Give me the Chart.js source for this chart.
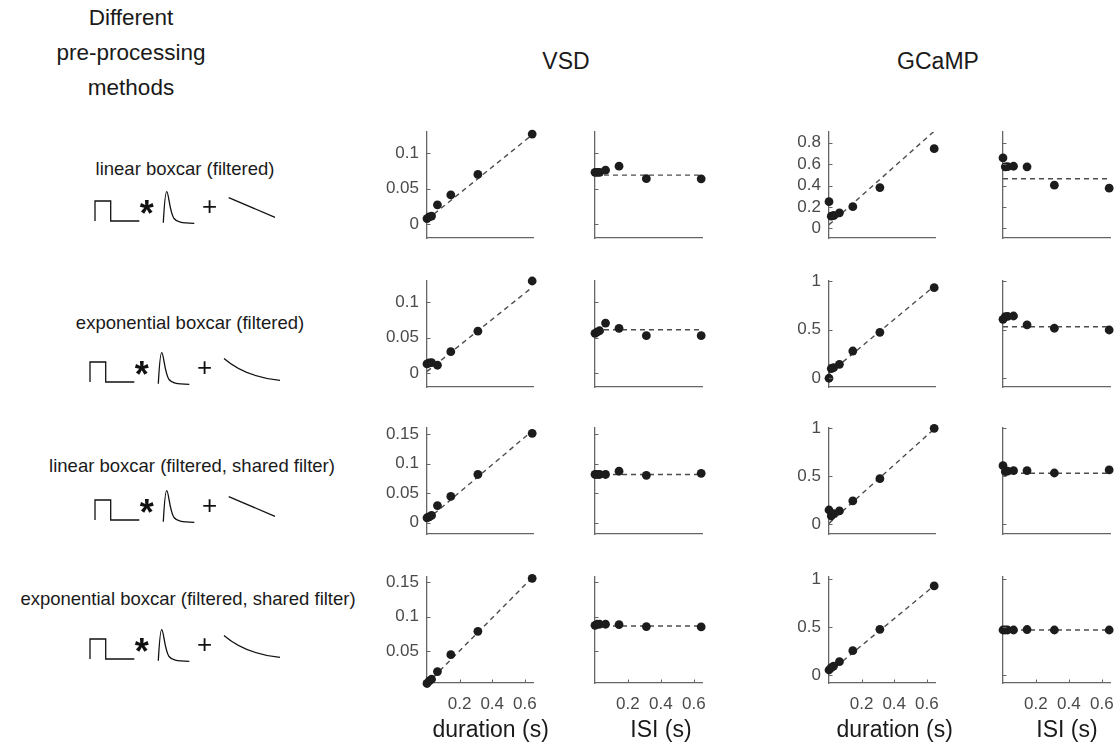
<!DOCTYPE html>
<html>
<head>
<meta charset="utf-8">
<script src="https://cdn.jsdelivr.net/npm/chart.js@4"></script>
<style>
  html, body { margin: 0; padding: 0; background: #fff; }
  #fig { position: relative; width: 1117px; height: 746px; overflow: hidden; font-family: "Liberation Sans", Arial, Helvetica, sans-serif; }
  .t { position: absolute; white-space: nowrap; line-height: 1; transform: translate(-50%, -50%); color: #1a1a1a; }
  canvas { position: absolute; }
  svg { position: absolute; left: 0; top: 0; }
</style>
</head>
<body>
<div id="fig"></div>
<script>
// ---------------- DATA ----------------
const durations = [0, 0.014, 0.028, 0.064, 0.146, 0.312, 0.645]; // x values (s), used for duration and ISI
const fitX = [0, 0.645];
const xTickValues = [0.2, 0.4, 0.6];
const xRange = [0, 0.65];

// VSD, duration panels
const vsdDur1 = [0.0075, 0.010, 0.011, 0.027, 0.041, 0.070, 0.127];
const vsdDur2 = [0.0126, 0.014, 0.0145, 0.0108, 0.030, 0.059, 0.130];
const vsdDur3 = [0.0084, 0.010, 0.0123, 0.029, 0.0444, 0.0815, 0.151];
const vsdDur4 = [0.0023, 0.006, 0.0085, 0.0197, 0.0444, 0.0785, 0.156];
// VSD, ISI panels
const vsdIsi1 = [0.073, 0.073, 0.073, 0.076, 0.0816, 0.064, 0.0637];
const vsdIsi2 = [0.0559, 0.058, 0.0596, 0.0704, 0.063, 0.0527, 0.0527];
const vsdIsi3 = [0.0815, 0.0815, 0.0815, 0.0815, 0.087, 0.080, 0.0834];
const vsdIsi4 = [0.0874, 0.0889, 0.0889, 0.0889, 0.0884, 0.0855, 0.085];
// GCaMP, duration panels
const gcDur1 = [0.249, 0.114, 0.120, 0.145, 0.203, 0.381, 0.744];
const gcDur2 = [0.0, 0.100, 0.109, 0.143, 0.280, 0.472, 0.931];
const gcDur3 = [0.149, 0.087, 0.110, 0.139, 0.243, 0.474, 0.997];
const gcDur4 = [0.055, 0.079, 0.096, 0.141, 0.255, 0.477, 0.927];
// GCaMP, ISI panels
const gcIsi1 = [0.658, 0.575, 0.577, 0.580, 0.575, 0.403, 0.375];
const gcIsi2 = [0.606, 0.633, 0.636, 0.640, 0.548, 0.514, 0.496];
const gcIsi3 = [0.609, 0.547, 0.552, 0.557, 0.557, 0.533, 0.565];
const gcIsi4 = [0.470, 0.470, 0.470, 0.470, 0.475, 0.470, 0.470];

// fitted lines (value at x=0 and x=0.645)
const vsdDurFit1 = [0.006, 0.126];
const vsdDurFit2 = [0.002, 0.121];
const vsdDurFit3 = [0.005, 0.155];
const vsdDurFit4 = [0.002, 0.157];
const vsdIsiFit1 = [0.069, 0.069];
const vsdIsiFit2 = [0.061, 0.061];
const vsdIsiFit3 = [0.0815, 0.0815];
const vsdIsiFit4 = [0.0864, 0.0864];
const gcDurFit1 = [0.034, 0.908];
const gcDurFit2 = [0.050, 0.946];
const gcDurFit3 = [0.010, 0.990];
const gcDurFit4 = [0.030, 0.930];
const gcIsiFit1 = [0.463, 0.463];
const gcIsiFit2 = [0.530, 0.530];
const gcIsiFit3 = [0.530, 0.530];
const gcIsiFit4 = [0.470, 0.470];

// y axis limits and ticks
const vsdRange1 = [-0.02, 0.13], vsdTicks1 = [0, 0.05, 0.1];
const vsdRange2 = [-0.02, 0.13], vsdTicks2 = [0, 0.05, 0.1];
const vsdRange3 = [-0.019, 0.16], vsdTicks3 = [0, 0.05, 0.1, 0.15];
const vsdRange4 = [0.003, 0.158], vsdTicks4 = [0.05, 0.1, 0.15];
const gcRange1 = [-0.09, 0.9], gcTicks1 = [0, 0.2, 0.4, 0.6, 0.8];
const gcRange2 = [-0.09, 1.0], gcTicks2 = [0, 0.5, 1];
const gcRange3 = [-0.1, 1.0], gcTicks3 = [0, 0.5, 1];
const gcRange4 = [-0.08, 1.02], gcTicks4 = [0, 0.5, 1];

// text
const rowLabels = ["linear boxcar (filtered)", "exponential boxcar (filtered)", "linear boxcar (filtered, shared filter)", "exponential boxcar (filtered, shared filter)"];
const headerLines = ["Different", "pre-processing", "methods"];
const columnTitles = ["VSD", "GCaMP"];
const xTitles = ["duration (s)", "ISI (s)"];

// ---------------- LAYOUT ----------------
const FONT = '"Liberation Sans", Arial, Helvetica, sans-serif';
const colLeft = [427, 595, 829, 1003];
const colWidth = [106, 107, 106, 107];
const rowTop = [132, 281, 428, 577];
const rowH = 106;

const fig = document.getElementById('fig');
function addText(str, x, y, size, extra) {
  const d = document.createElement('div');
  d.className = 't';
  d.textContent = str;
  d.style.left = x + 'px';
  d.style.top = y + 'px';
  d.style.fontSize = size + 'px';
  if (extra) Object.assign(d.style, extra);
  fig.appendChild(d);
}

const inwardTicks = {
  id: 'inwardTicks',
  afterDatasetsDraw(chart, args, opts) {
    const ctx = chart.ctx, ca = chart.chartArea;
    ctx.save();
    ctx.strokeStyle = '#666';
    ctx.lineWidth = 1;
    const ys = chart.scales.y;
    ys.ticks.forEach(t => {
      const p = Math.round(ys.getPixelForValue(t.value)) + 0.5;
      ctx.beginPath(); ctx.moveTo(ca.left, p); ctx.lineTo(ca.left + 3.5, p); ctx.stroke();
    });
    if (opts.xMarks) {
      const xs = chart.scales.x;
      xs.ticks.forEach(t => {
        const p = Math.round(xs.getPixelForValue(t.value)) + 0.5;
        ctx.beginPath(); ctx.moveTo(p, ca.bottom); ctx.lineTo(p, ca.bottom - 3.5); ctx.stroke();
      });
    }
    ctx.restore();
  }
};

function panel(col, row, ys, fit, range, ticks, showY) {
  const showX = row === 3;
  const L = showY ? 70 : 8, T = 30, R = 30, B = showX ? 45 : 30;
  const w = colWidth[col], h = rowH;
  const c = document.createElement('canvas');
  c.width = w + L + R; c.height = h + T + B;
  c.style.left = (colLeft[col] - L) + 'px';
  c.style.top = (rowTop[row] - T) + 'px';
  c.style.width = c.width + 'px'; c.style.height = c.height + 'px';
  fig.appendChild(c);
  new Chart(c.getContext('2d'), {
    type: 'scatter',
    data: {
      datasets: [
        {
          data: fitX.map((x, i) => ({ x: x, y: fit[i] })),
          showLine: true, pointRadius: 0, borderColor: '#4d4d4d', borderWidth: 1.4,
          borderDash: [5, 4], fill: false, clip: 0, order: 2
        },
        {
          data: durations.map((x, i) => ({ x: x, y: ys[i] })),
          pointRadius: 4.4, pointBackgroundColor: '#1c1c1c', pointBorderColor: '#1c1c1c',
          pointBorderWidth: 0, showLine: false, clip: false, order: 1
        }
      ]
    },
    options: {
      responsive: false, animation: false, devicePixelRatio: 1, events: [],
      layout: { padding: { top: T, right: R, left: 0, bottom: 0 } },
      plugins: { legend: { display: false }, tooltip: { enabled: false }, inwardTicks: { xMarks: showX } },
      scales: {
        x: {
          type: 'linear', min: xRange[0], max: xRange[1],
          afterFit(s) { s.height = B; },
          afterBuildTicks(s) { s.ticks = xTickValues.map(v => ({ value: v })); },
          grid: { display: false, drawTicks: false },
          border: { display: true, color: '#666', width: 1.3 },
          ticks: { display: showX, padding: 11, color: '#4a4a4a', font: { family: FONT, size: 17 },
                   maxRotation: 0, autoSkip: false, callback: v => String(v) }
        },
        y: {
          type: 'linear', min: range[0], max: range[1],
          afterFit(s) { s.width = L; },
          afterBuildTicks(s) { s.ticks = ticks.map(v => ({ value: v })); },
          grid: { display: false, drawTicks: false },
          border: { display: true, color: '#666', width: 1.3 },
          ticks: { display: showY, padding: 8, color: '#4a4a4a', font: { family: FONT, size: 17 },
                   autoSkip: false, callback: v => String(v) }
        }
      }
    },
    plugins: [inwardTicks]
  });
}

panel(0, 0, vsdDur1, vsdDurFit1, vsdRange1, vsdTicks1, true);
panel(0, 1, vsdDur2, vsdDurFit2, vsdRange2, vsdTicks2, true);
panel(0, 2, vsdDur3, vsdDurFit3, vsdRange3, vsdTicks3, true);
panel(0, 3, vsdDur4, vsdDurFit4, vsdRange4, vsdTicks4, true);
panel(1, 0, vsdIsi1, vsdIsiFit1, vsdRange1, vsdTicks1, false);
panel(1, 1, vsdIsi2, vsdIsiFit2, vsdRange2, vsdTicks2, false);
panel(1, 2, vsdIsi3, vsdIsiFit3, vsdRange3, vsdTicks3, false);
panel(1, 3, vsdIsi4, vsdIsiFit4, vsdRange4, vsdTicks4, false);
panel(2, 0, gcDur1, gcDurFit1, gcRange1, gcTicks1, true);
panel(2, 1, gcDur2, gcDurFit2, gcRange2, gcTicks2, true);
panel(2, 2, gcDur3, gcDurFit3, gcRange3, gcTicks3, true);
panel(2, 3, gcDur4, gcDurFit4, gcRange4, gcTicks4, true);
panel(3, 0, gcIsi1, gcIsiFit1, gcRange1, gcTicks1, false);
panel(3, 1, gcIsi2, gcIsiFit2, gcRange2, gcTicks2, false);
panel(3, 2, gcIsi3, gcIsiFit3, gcRange3, gcTicks3, false);
panel(3, 3, gcIsi4, gcIsiFit4, gcRange4, gcTicks4, false);

// ---------------- TEXT ----------------
const headerY = [18, 53, 88];
headerLines.forEach((s, i) => addText(s, 131, headerY[i], 22.5));
addText(columnTitles[0], 566, 61, 23);
addText(columnTitles[1], 938, 61, 23);
const xTitleX = [490.7, 661, 894.7, 1067];
xTitleX.forEach((x, i) => addText(xTitles[i % 2], x, 729, 23));
const rowLabelX = [185, 190, 192, 188];
const rowLabelY = [169, 323, 466, 598.5];
rowLabels.forEach((s, i) => addText(s, rowLabelX[i], rowLabelY[i], 18.5));

// ---------------- ICONS ----------------
const NS = 'http://www.w3.org/2000/svg';
const svg = document.createElementNS(NS, 'svg');
svg.setAttribute('width', 380); svg.setAttribute('height', 746);
fig.appendChild(svg);
function path(d, dx, dy) {
  const p = document.createElementNS(NS, 'path');
  p.setAttribute('d', d);
  p.setAttribute('transform', `translate(${dx},${dy})`);
  p.setAttribute('fill', 'none'); p.setAttribute('stroke', '#111'); p.setAttribute('stroke-width', '1.3');
  svg.appendChild(p);
}
function stext(str, x, y, size, weight, dx, dy) {
  const t = document.createElementNS(NS, 'text');
  t.textContent = str;
  t.setAttribute('x', x + dx); t.setAttribute('y', y + dy);
  t.setAttribute('text-anchor', 'middle');
  t.setAttribute('font-family', FONT);
  t.setAttribute('font-size', size);
  t.setAttribute('font-weight', weight);
  t.setAttribute('fill', '#111');
  svg.appendChild(t);
}
// icon geometry in row-1 frame; offsets per row; kind: linear or exponential baseline
const iconOffsets = [[0, 0, 'lin'], [-5, 161, 'exp'], [0, 299, 'lin'], [-5, 438, 'exp']];
iconOffsets.forEach(([dx, dy, kind]) => {
  path('M95,221 L95,201 L110.7,201 L110.7,221 L139.3,221', dx, dy);
  path('M163.3,222.7 C164.3,205 165.3,191.7 166.7,191.7 C168.6,191.7 169.6,212 174,218.5 C177,222.3 181,223 194.3,223.3', dx, dy);
  stext('*', 146.7, 226, 36, 'bold', dx, dy);
  stext('+', 209.7, 214.5, 26, 'normal', dx, dy);
  if (kind === 'lin') path('M228.7,197.7 L275,217.3', dx, dy);
  else path('M229,197.5 C241,208 257,216.5 285,219.3', dx, dy);
});
</script>
</body>
</html>
